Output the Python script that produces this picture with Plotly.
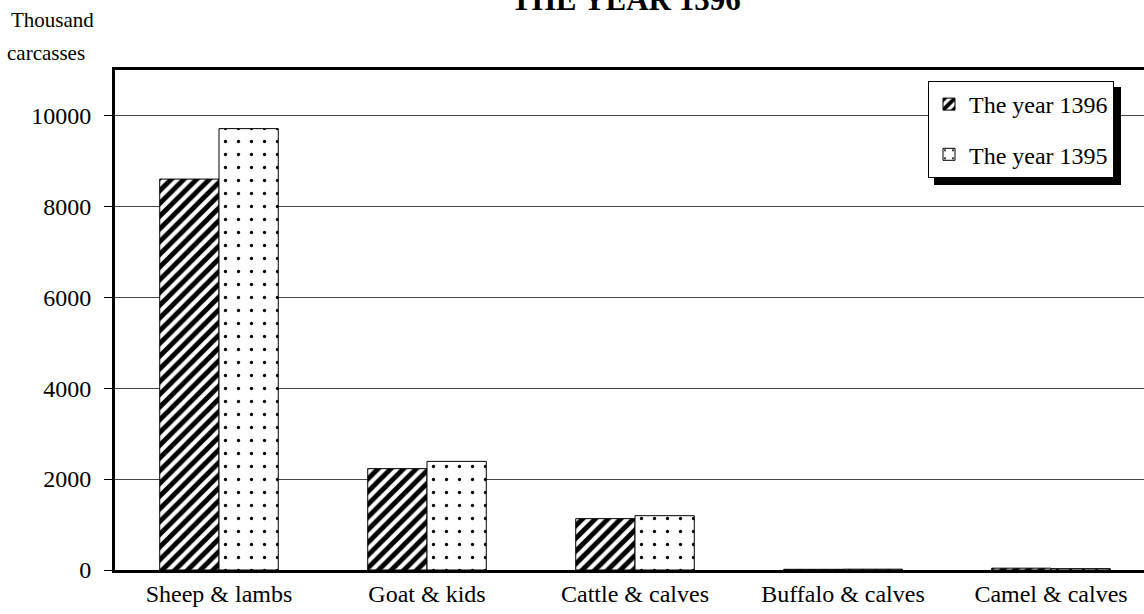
import plotly.graph_objects as go

categories = ["Sheep & lambs", "Goat & kids", "Cattle & calves", "Buffalo & calves", "Camel & calves"]
values_1396 = [8600, 2230, 1130, 15, 40]
values_1395 = [9710, 2390, 1195, 18, 30]
series_names = ["The year 1396", "The year 1395"]
y_ticks = [0, 2000, 4000, 6000, 8000, 10000]
y_tick_text = ["0", "2000", "4000", "6000", "8000", "10000"]

FONT = "Liberation Serif, Times New Roman, serif"

fig = go.Figure()
fig.add_trace(go.Bar(
    x=categories, y=values_1396, name=series_names[0], legendgroup="a",
    marker=dict(color="white", line=dict(color="black", width=1),
                pattern=dict(shape="/", fgcolor="black", bgcolor="white", fgopacity=1,
                             size=9, solidity=0.55)),
))
fig.add_trace(go.Bar(
    x=categories, y=values_1395, name=series_names[1], legendgroup="b",
    marker=dict(color="white", line=dict(color="black", width=1),
                pattern=dict(shape=".", fgcolor="black", bgcolor="white", fgopacity=1,
                             size=13, solidity=0.05)),
))

W, H = 1144, 614
ml, mt, mb, mr = 115, 70, 44, 0
pw, ph = W - ml - mr, H - mt - mb

def px_x(x):
    return (x - ml) / pw

def px_y(y):
    return (H - mb - y) / ph

# legend shadow
fig.add_shape(type="rect", xref="paper", yref="paper",
              x0=px_x(934), x1=px_x(1121), y0=px_y(185), y1=px_y(87),
              fillcolor="black", line=dict(width=0), layer="above")

fig.update_layout(
    width=W, height=H,
    margin=dict(l=ml, r=mr, t=mt, b=mb, autoexpand=False),
    paper_bgcolor="white", plot_bgcolor="white",
    font=dict(family=FONT, size=24, color="black"),
    barmode="group", bargap=0.43, bargroupgap=0,
    showlegend=True,
    legend=dict(x=px_x(928), y=px_y(81), xanchor="left", yanchor="top",
                bgcolor="white", bordercolor="black", borderwidth=1,
                font=dict(family=FONT, size=24, color="black"),
                traceorder="grouped", tracegroupgap=16, itemwidth=30),
    xaxis=dict(range=[-0.5, 4.447], showline=True, linecolor="black", linewidth=3, mirror=True,
               ticks="", showgrid=False, tickfont=dict(size=24), automargin=False),
    yaxis=dict(range=[0, 11000], tickvals=y_ticks, ticktext=y_tick_text,
               showline=True, linecolor="black", linewidth=3,
               ticks="outside", ticklen=8, tickcolor="black", tickwidth=1,
               ticklabelstandoff=8,
               showgrid=True, gridcolor="#444", gridwidth=1, zeroline=False,
               tickfont=dict(size=24), automargin=False),
    annotations=[
        dict(text="<b>THE YEAR 1396</b>", xref="paper", yref="paper",
             x=px_x(626), y=px_y(19), xanchor="center", yanchor="bottom", showarrow=False,
             font=dict(family=FONT, size=31, color="black")),
        dict(text="Thousand", xref="paper", yref="paper",
             x=px_x(52), y=px_y(20), xanchor="center", yanchor="middle", showarrow=False,
             font=dict(family=FONT, size=21, color="black")),
        dict(text="carcasses", xref="paper", yref="paper",
             x=px_x(46), y=px_y(53), xanchor="center", yanchor="middle", showarrow=False,
             font=dict(family=FONT, size=21, color="black")),
    ],
)

fig.write_html("out.html", config={"displayModeBar": False},
               post_script="document.body.style.margin='0';document.body.style.padding='0';")
